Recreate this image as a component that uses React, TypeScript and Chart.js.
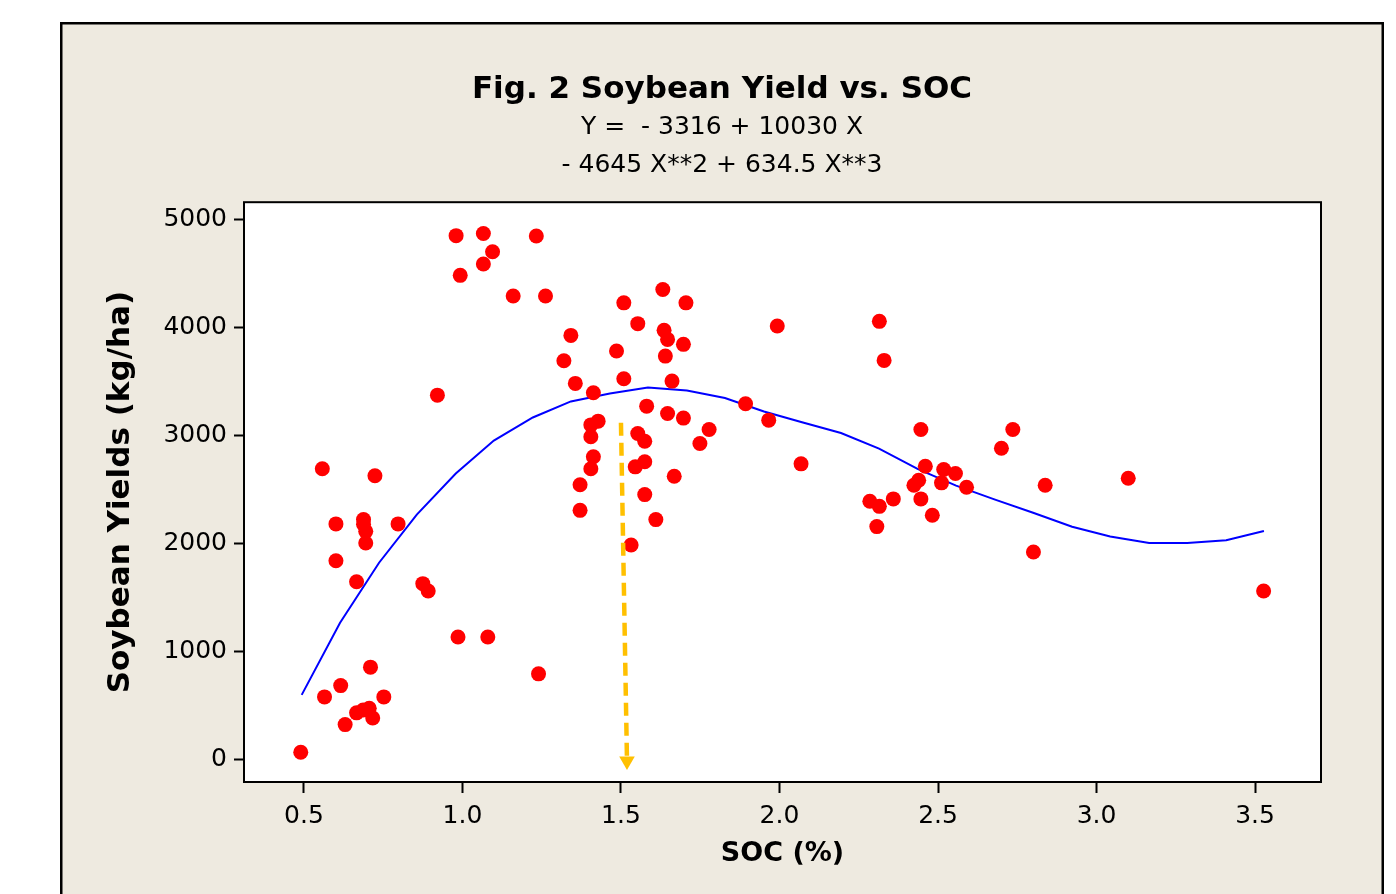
import React, { useEffect, useRef } from "react";
import { Chart, registerables } from "chart.js";

Chart.register(...registerables);

// ---- Data ----
const socValues = [
  0.49, 0.565, 0.616, 0.63, 0.666, 0.687, 0.706, 0.717, 0.752, 0.71,
  0.558, 0.601, 0.601, 0.666, 0.688, 0.688, 0.695, 0.695, 0.724, 0.797,
  0.875, 0.892, 0.921, 0.98, 0.993, 0.986, 1.066, 1.066, 1.095, 1.08,
  1.16, 1.233, 1.262, 1.24, 1.342, 1.32, 1.356, 1.371, 1.371, 1.413,
  1.405, 1.428, 1.405, 1.413, 1.405,
  1.632, 1.509, 1.705, 1.553, 1.636, 1.647, 1.697, 1.486, 1.64, 1.509,
  1.661, 1.581, 1.647, 1.697, 1.893, 1.966, 1.993, 2.068, 1.553, 1.575,
  1.545, 1.575, 1.778, 1.749, 1.668, 1.575, 1.61, 1.532,
  2.315, 2.33, 2.446, 2.736, 2.70, 2.46, 2.518, 2.555, 2.439, 2.424,
  2.511, 2.59, 2.838, 3.10, 2.285, 2.315, 2.359, 2.446, 2.482, 2.307,
  2.801, 3.527,
];
const yieldValues = [
  65, 578, 683, 321, 430, 457, 473, 383, 578, 854,
  2693, 2182, 1841, 1646, 2222, 2180, 2113, 2005, 2628, 2182,
  1628, 1560, 3376, 4855, 4487, 1133, 4875, 4592, 4705, 1133,
  4295, 4852, 4295, 792, 3930, 3695, 3485, 2545, 2308, 3398,
  3100, 3135, 2990, 2805, 2693,
  4355, 4232, 4232, 4039, 3977, 3893, 3847, 3785, 3738, 3528,
  3506, 3274, 3206, 3163, 3296, 3144, 4017, 2739, 3020, 2949,
  2711, 2758, 3058, 2928, 2624, 2454, 2222, 1987,
  4060, 3698, 3058, 3058, 2884, 2717, 2686, 2649, 2587, 2540,
  2563, 2522, 2540, 2605, 2392, 2345, 2414, 2414, 2262, 2157,
  1922, 1560,
];

// fitted cubic curve, vertices
const fitSoc = [
  0.493, 0.614, 0.737, 0.856, 0.979, 1.099, 1.222, 1.342, 1.465, 1.585,
  1.708, 1.828, 1.951, 2.071, 2.194, 2.314, 2.437, 2.557, 2.68, 2.8,
  2.923, 3.043, 3.166, 3.286, 3.409, 3.528,
];
const fitYield = [
  597, 1265, 1822, 2268, 2649, 2955, 3169, 3318, 3392, 3447,
  3420, 3350, 3225, 3125, 3025, 2880, 2690, 2537, 2407, 2286,
  2156, 2065, 2005, 2005, 2030, 2117,
];

// dashed arrow marking optimum SOC
const arrowSoc = [1.5, 1.519];
const arrowYield = [3120, -16];

const xTicks = [0.5, 1.0, 1.5, 2.0, 2.5, 3.0, 3.5];
const yTicks = [0, 1000, 2000, 3000, 4000, 5000];

const titleText = "Fig. 2 Soybean Yield vs. SOC";
const equationLines = ["Y =  - 3316 + 10030 X", "- 4645 X**2 + 634.5 X**3"];
const xTitle = "SOC (%)";
const yTitle = "Soybean Yields (kg/ha)";

const FONT = "'DejaVu Sans', Verdana, sans-serif";

const framePlugin = {
  id: "frame",
  beforeDraw(chart: any) {
    const { ctx, chartArea, width, height } = chart;
    ctx.save();
    ctx.fillStyle = "#ffffff";
    ctx.fillRect(0, 0, width, height);
    ctx.fillStyle = "#EEEAE0";
    ctx.fillRect(61, 23, 1322, 900);
    ctx.strokeStyle = "#000000";
    ctx.lineWidth = 2.5;
    ctx.strokeRect(61.25, 23.25, 1321.5, 900);
    ctx.fillStyle = "#ffffff";
    ctx.fillRect(chartArea.left, chartArea.top, chartArea.right - chartArea.left, chartArea.bottom - chartArea.top);
    ctx.restore();
  },
  afterDraw(chart: any) {
    const { ctx, chartArea } = chart;
    ctx.save();
    ctx.strokeStyle = "#000000";
    ctx.lineWidth = 2;
    ctx.strokeRect(chartArea.left, chartArea.top, chartArea.right - chartArea.left, chartArea.bottom - chartArea.top);
    ctx.restore();
  },
};

export default function App() {
  const ref = useRef<HTMLCanvasElement | null>(null);

  useEffect(() => {
    document.body.style.margin = "0";
    const canvas = ref.current;
    if (!canvas) return;

    const scatterData = socValues.map((x, i) => ({ x, y: yieldValues[i] }));
    const fitData = fitSoc.map((x, i) => ({ x, y: fitYield[i] }));
    const arrowData = arrowSoc.map((x, i) => ({ x, y: arrowYield[i] }));

    const chart = new Chart(canvas, {
      type: "scatter",
      data: {
        datasets: [
          {
            type: "line",
            label: "Arrow",
            data: arrowData,
            borderColor: "#FFC000",
            backgroundColor: "#FFC000",
            borderWidth: 4.5,
            borderDash: [13, 7],
            pointRadius: [0, 9],
            pointStyle: "triangle",
            rotation: [0, 180],
            pointBorderWidth: 0,
            pointBackgroundColor: "#FFC000",
            tension: 0,
            fill: false,
            order: 0,
          } as any,
          {
            type: "scatter",
            label: "Yield",
            data: scatterData,
            backgroundColor: "#FF0000",
            borderWidth: 0,
            pointRadius: 7.5,
            order: 1,
          },
          {
            type: "line",
            label: "Fit",
            data: fitData,
            borderColor: "#0000FF",
            borderWidth: 2,
            pointRadius: 0,
            tension: 0,
            fill: false,
            order: 2,
          },
        ],
      },
      options: {
        animation: false,
        responsive: false,
        events: [],
        layout: { padding: { left: 123, right: 75, top: 0, bottom: 0 } },
        plugins: {
          legend: { display: false },
          tooltip: { enabled: false },
          title: {
            display: true,
            text: titleText,
            color: "#000",
            font: { family: FONT, size: 31, weight: "bold", lineHeight: 1.2 },
            padding: { top: 71, bottom: 0 },
          },
          subtitle: {
            display: true,
            text: equationLines,
            color: "#000",
            font: { family: FONT, size: 25, weight: "normal", lineHeight: 1.52 },
            padding: { top: 0, bottom: 18 },
          },
        },
        scales: {
          x: {
            type: "linear",
            min: 0.311,
            max: 3.708,
            afterBuildTicks: (s: any) => {
              s.ticks = xTicks.map((v) => ({ value: v }));
            },
            afterFit: (s: any) => {
              s.height = 112;
            },
            ticks: {
              color: "#000",
              font: { family: FONT, size: 25 },
              padding: 8,
              callback: (v: any) => Number(v).toFixed(1),
              maxRotation: 0,
            },
            grid: {
              drawOnChartArea: false,
              drawTicks: true,
              tickLength: 11,
              tickColor: "#000",
              tickWidth: 2,
            },
            border: { display: false },
            title: {
              display: true,
              text: xTitle,
              color: "#000",
              font: { family: FONT, size: 27, weight: "bold" },
              padding: { top: 0, bottom: 24 },
            },
          },
          y: {
            type: "linear",
            min: -211,
            max: 5165,
            afterBuildTicks: (s: any) => {
              s.ticks = yTicks.map((v) => ({ value: v }));
            },
            afterFit: (s: any) => {
              s.width = 121;
            },
            ticks: {
              color: "#000",
              font: { family: FONT, size: 25 },
              padding: 7,
              callback: (v: any) => String(v),
            },
            grid: {
              drawOnChartArea: false,
              drawTicks: true,
              tickLength: 10,
              tickColor: "#000",
              tickWidth: 2,
            },
            border: { display: false },
            title: {
              display: true,
              text: yTitle,
              color: "#000",
              font: { family: FONT, size: 31, weight: "bold" },
              padding: { top: -21, bottom: 0 },
            },
          },
        },
      },
      plugins: [framePlugin],
    });

    return () => {
      chart.destroy();
    };
  }, []);

  return (
    <div style={{ width: 1396, height: 894, overflow: "hidden" }}>
      <canvas ref={ref} width={1396} height={894} style={{ display: "block", width: 1396, height: 894 }} />
    </div>
  );
}
